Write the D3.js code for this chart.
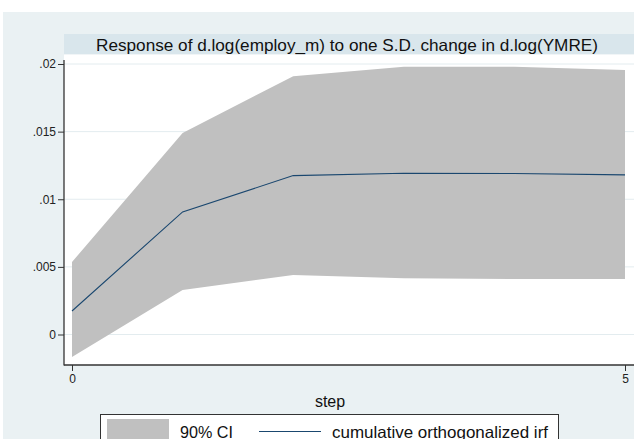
<!DOCTYPE html>
<html><head><meta charset="utf-8">
<script src="https://cdn.jsdelivr.net/npm/d3@7"></script>
<style>
html,body{margin:0;padding:0;background:#fff;}
svg{display:block;font-family:"Liberation Sans",Arial,Helvetica,sans-serif;}
</style></head>
<body>
<svg id="c" width="634" height="439"></svg>
<script>
const steps = [0, 1, 2, 3, 4, 5];
const irf = [0.00174, 0.00906, 0.01175, 0.01192, 0.01190, 0.01180];
const ciLower = [-0.00166, 0.00329, 0.00440, 0.00416, 0.00410, 0.00410];
const ciUpper = [0.00536, 0.01490, 0.01910, 0.01980, 0.01980, 0.01956];
const yTicks = [0, 0.005, 0.01, 0.015, 0.02];
const yTickLabels = ["0", ".005", ".01", ".015", ".02"];
const xTicks = [0, 5];
const xTickLabels = ["0", "5"];
const title = "Response of d.log(employ_m) to one S.D. change in d.log(YMRE)";
const xTitle = "step";
const legendLabels = ["90% CI", "cumulative orthogonalized irf"];

const svg = d3.select("#c");
const W = 634, H = 439;
// outer background
svg.append("rect").attr("x", 3).attr("y", 12).attr("width", W - 3).attr("height", H - 12).attr("fill", "#eaf1f3");
// title band
svg.append("rect").attr("x", 64).attr("y", 34).attr("width", W - 64).attr("height", 20.5).attr("fill", "#d9e6ec");
svg.append("text").attr("x", 96).attr("y", 50.5)
  .attr("font-size", 16.5).attr("textLength", 502).attr("lengthAdjust", "spacingAndGlyphs")
  .attr("fill", "#111").text(title);
// plot region
const plotL = 64, plotT = 54.5, plotB = 365;
svg.append("rect").attr("x", plotL).attr("y", plotT).attr("width", W - plotL).attr("height", plotB - plotT).attr("fill", "#ffffff");

const x = d3.scaleLinear().domain([0, 5]).range([72, 625]);
const y = d3.scaleLinear().domain([0, 0.02]).range([334.5, 64]);

// gridlines
svg.append("g").selectAll("line").data(yTicks).join("line")
  .attr("x1", plotL).attr("x2", W).attr("y1", d => y(d)).attr("y2", d => y(d))
  .attr("stroke", "#e3ecef").attr("stroke-width", 1);

// CI band
const data = steps.map((s, i) => ({s, lo: ciLower[i], hi: ciUpper[i], v: irf[i]}));
svg.append("path").datum(data)
  .attr("d", d3.area().x(d => x(d.s)).y0(d => y(d.lo)).y1(d => y(d.hi)))
  .attr("fill", "#c0c0c0");
// irf line
svg.append("path").datum(data)
  .attr("d", d3.line().x(d => x(d.s)).y(d => y(d.v)))
  .attr("fill", "none").attr("stroke", "#1a476f").attr("stroke-width", 1.1);

// axes
const yAxis = d3.axisLeft(y).tickValues(yTicks).tickSize(6).tickPadding(2)
  .tickFormat((d, i) => yTickLabels[i]);
const gy = svg.append("g").attr("transform", `translate(${plotL},0)`).call(yAxis);
gy.select(".domain").remove();
gy.selectAll(".tick line").attr("stroke", "#333");
gy.selectAll(".tick text").attr("font-size", 12).attr("fill", "#222").attr("font-family", "Liberation Sans, Arial, sans-serif");

const xAxis = d3.axisBottom(x).tickValues(xTicks).tickSize(6).tickPadding(3)
  .tickFormat((d, i) => xTickLabels[i]);
const gx = svg.append("g").attr("transform", `translate(0,${plotB})`).call(xAxis);
gx.select(".domain").remove();
gx.selectAll(".tick line").attr("stroke", "#333");
gx.selectAll(".tick text").attr("font-size", 12).attr("fill", "#222").attr("font-family", "Liberation Sans, Arial, sans-serif");

// axis lines
svg.append("line").attr("x1", plotL).attr("x2", plotL).attr("y1", 60).attr("y2", plotB + 0.5).attr("stroke", "#333").attr("stroke-width", 1.3);
svg.append("line").attr("x1", plotL).attr("x2", W).attr("y1", plotB).attr("y2", plotB).attr("stroke", "#333").attr("stroke-width", 1.3);

// x title
svg.append("text").attr("x", 330).attr("y", 407).attr("text-anchor", "middle")
  .attr("font-size", 16).attr("fill", "#111").text(xTitle);

// legend
svg.append("rect").attr("x", 100.5).attr("y", 414.5).attr("width", 458).attr("height", 40)
  .attr("fill", "#fff").attr("stroke", "#333").attr("stroke-width", 1);
svg.append("rect").attr("x", 107).attr("y", 419).attr("width", 62).attr("height", 25).attr("fill", "#c0c0c0");
svg.append("text").attr("x", 180).attr("y", 437.5).attr("font-size", 16.5)
  .attr("textLength", 53).attr("lengthAdjust", "spacingAndGlyphs").attr("fill", "#111").text(legendLabels[0]);
svg.append("line").attr("x1", 259).attr("x2", 321).attr("y1", 431.5).attr("y2", 431.5).attr("stroke", "#1a476f").attr("stroke-width", 1.1);
svg.append("text").attr("x", 332).attr("y", 437.5).attr("font-size", 16.5)
  .attr("textLength", 216).attr("lengthAdjust", "spacingAndGlyphs").attr("fill", "#111").text(legendLabels[1]);
</script>
</body></html>
